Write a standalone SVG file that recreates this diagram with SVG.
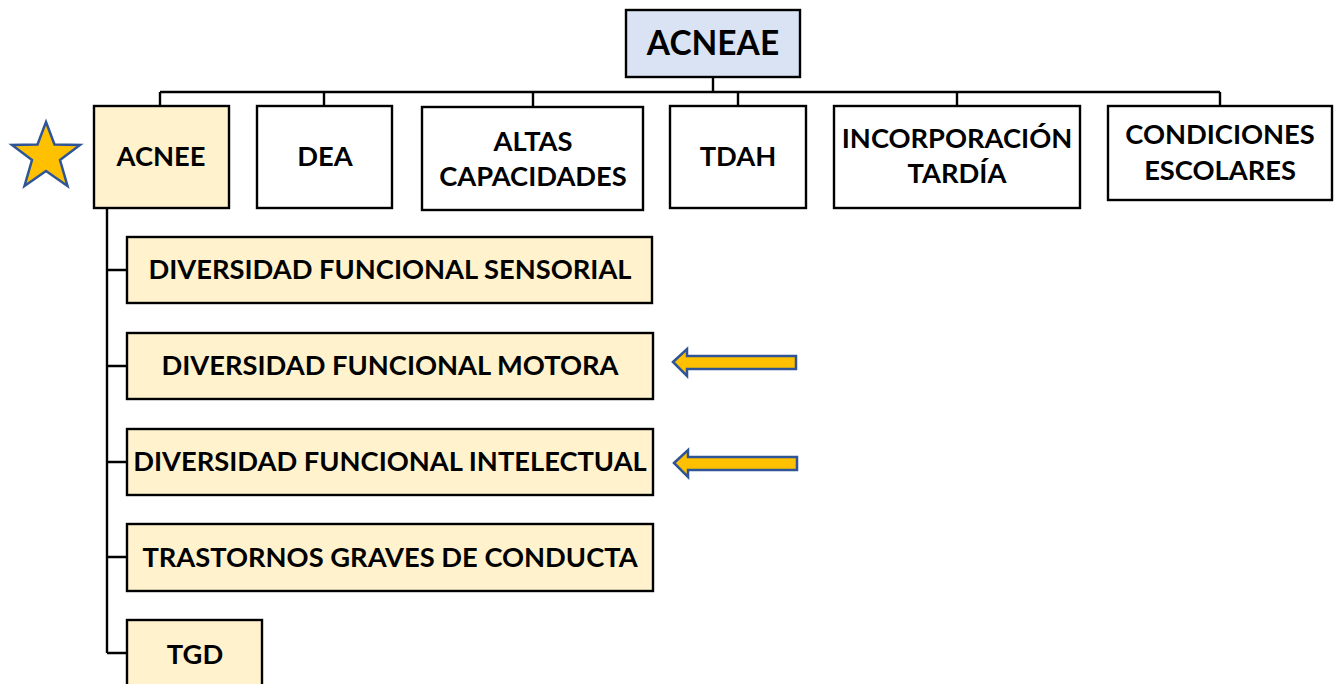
<svg xmlns="http://www.w3.org/2000/svg" width="1339" height="684" viewBox="0 0 1339 684">
<style>
.box{stroke:#000;stroke-width:2.4}
.w{fill:#fff}
.y{fill:#fff2cc}
.b{fill:#dae3f3}
text{font-family:Lato,"Open Sans","Liberation Sans",sans-serif;font-weight:bold;font-size:27.3px;fill:#000;text-anchor:middle}
.conn{fill:none;stroke:#000;stroke-width:2.4}
.arr{fill:#ffc000;stroke:#2f5597;stroke-width:2.5;stroke-linejoin:miter}
</style>
<rect width="1339" height="684" fill="#fff"/>
<g id="connectors">
<path class="conn" d="M713 77V92M160 92H1220M160 92V106M324 92V106M533 92V107M738 92V106M957 92V106M1220 92V106"/>
<path class="conn" d="M107 208V653M107 270H127M107 366H127M107 462H127M107 557H127M107 653H127"/>
</g>
<g id="acneae"><rect class="box b" x="626" y="10" width="174" height="67"/><text x="713" y="55" style="font-size:33.5px">ACNEAE</text></g>
<g id="acnee"><rect class="box y" x="94" y="106" width="135" height="102"/><text x="161" y="166">ACNEE</text></g>
<g id="dea"><rect class="box w" x="257" y="106" width="135" height="102"/><text x="325" y="166">DEA</text></g>
<g id="altas"><rect class="box w" x="422" y="107" width="221" height="103"/><text x="533" y="151">ALTAS</text><text x="533" y="186">CAPACIDADES</text></g>
<g id="tdah"><rect class="box w" x="670" y="106" width="136" height="102"/><text x="738" y="166">TDAH</text></g>
<g id="incorporacion"><rect class="box w" x="834" y="106" width="246" height="102"/><text x="957" y="148">INCORPORACIÓN</text><text x="957" y="183">TARDÍA</text></g>
<g id="condiciones"><rect class="box w" x="1108" y="106" width="224" height="94"/><text x="1220" y="144">CONDICIONES</text><text x="1220" y="180">ESCOLARES</text></g>
<g id="sensorial"><rect class="box y" x="127" y="237" width="525" height="66"/><text x="390" y="279">DIVERSIDAD FUNCIONAL SENSORIAL</text></g>
<g id="motora"><rect class="box y" x="127" y="333" width="526" height="66"/><text x="390" y="375">DIVERSIDAD FUNCIONAL MOTORA</text></g>
<g id="intelectual"><rect class="box y" x="127" y="429" width="526" height="66"/><text x="390" y="471">DIVERSIDAD FUNCIONAL INTELECTUAL</text></g>
<g id="trastornos"><rect class="box y" x="127" y="524" width="526" height="67"/><text x="390" y="567">TRASTORNOS GRAVES DE CONDUCTA</text></g>
<g id="tgd"><rect class="box y" x="127" y="620" width="135" height="70"/><text x="195" y="664">TGD</text></g>
<g id="star"><polygon class="arr" points="46,122 54.5,144.5 80,145 60,160 67.5,186 46,171 24.5,186 32,160 12,145 37.5,144.5"/></g>
<g id="arrow1"><polygon class="arr" points="673,362 687,349 687,356 796,356 796,369 687,369 687,376"/></g>
<g id="arrow2"><polygon class="arr" points="674,463 688,450 688,457 797,457 797,470 688,470 688,477"/></g>
</svg>
